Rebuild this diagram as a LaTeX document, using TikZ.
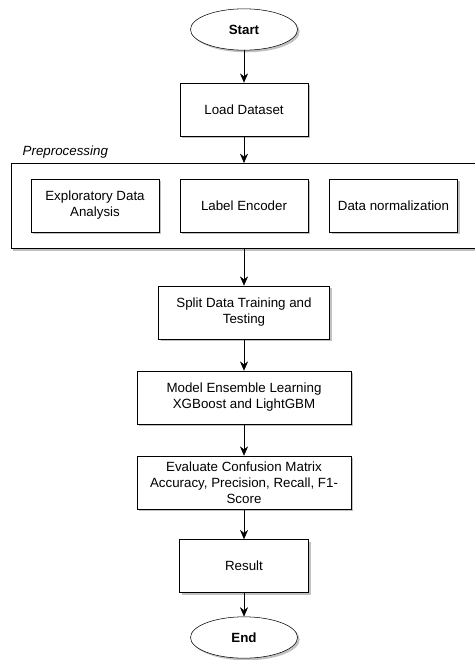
\documentclass[tikz,border=0pt]{standalone}
\usepackage{fontspec}
\setmainfont{Liberation Sans}
\usepackage{tikz}
\usetikzlibrary{shapes.geometric,shadows,arrows.meta}

\begin{document}
\begin{tikzpicture}[x=0.75pt,y=-0.75pt,>={Stealth[length=7pt,width=6pt]},
  shadowed/.style={drop shadow={shadow xshift=1.6pt,shadow yshift=-1.6pt,opacity=0.35,fill=black!70}},
  box/.style={draw,fill=white,shadowed,minimum width=96pt,minimum height=39.75pt,align=center,inner sep=2pt,font=\fontsize{10}{12}\selectfont},
  terminal/.style={ellipse,draw,fill=white,shadowed,minimum width=80.25pt,minimum height=31pt,inner sep=0pt,font=\bfseries\fontsize{10}{12}\selectfont}]
  \useasboundingbox (0,0) rectangle (475,660);
  \node[terminal] (start) at (244,29.5) {Start};
  \node[box] (load) at (244,109.5) {Load Dataset};
  % preprocessing group, runs past the right edge
  \fill[black!70,opacity=0.35] (13,165) rectangle (475,250.5);
  \fill[white] (11,163) rectangle (475,248);
  \draw (475,163) -- (11,163) -- (11,248) -- (475,248);
  \coordinate (pretop) at (244,163);
  \coordinate (prebot) at (244,248);
  \node[anchor=base west,font=\itshape\fontsize{10}{12}\selectfont] (prelabel) at (18,155.5) {Preprocessing};
  \node[box] (eda) at (95,205.5) {Exploratory Data\\Analysis};
  \node[box] (encoder) at (244,205.5) {Label Encoder};
  \node[box] (norm) at (393.5,205.5) {Data normalization};
  \node[box,minimum width=128.25pt] (split) at (244,312.5) {Split Data Training and\\Testing};
  \node[box,minimum width=160.5pt] (model) at (244,397.5) {Model Ensemble Learning\\XGBoost and LightGBM};
  \node[box,minimum width=160.5pt] (eval) at (244,482.5) {Evaluate Confusion Matrix\\Accuracy, Precision, Recall, F1-\\Score};
  \node[box,minimum width=96.75pt] (result) at (244,566) {Result};
  \node[terminal] (end) at (244,637.5) {End};
  \draw[->] (start) -- (load);
  \draw[->] (load) -- (pretop);
  \draw[->] (prebot) -- (split);
  \draw[->] (split) -- (model);
  \draw[->] (model) -- (eval);
  \draw[->] (eval) -- (result);
  \draw[->] (result) -- (end);
\end{tikzpicture}
\end{document}
